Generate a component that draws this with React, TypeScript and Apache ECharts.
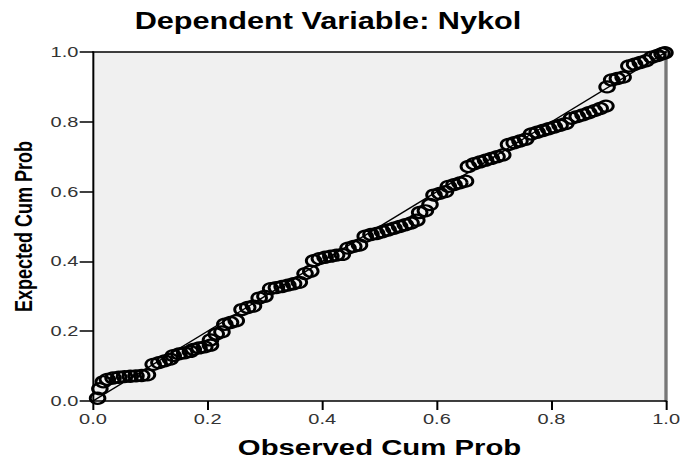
import React, { useEffect, useRef } from "react";
import * as echarts from "echarts";

const titleText = "Dependent Variable: Nykol";
const xName = "Observed Cum Prob";
const yName = "Expected Cum Prob";
const tickValues = [0, 0.2, 0.4, 0.6, 0.8, 1.0];

const observed = [
  0.008, 0.012, 0.018,
  0.025, 0.035, 0.045, 0.055, 0.065, 0.075, 0.085, 0.095,
  0.105, 0.115, 0.125, 0.135,
  0.14, 0.15, 0.16, 0.17,
  0.175, 0.185, 0.195, 0.205, 0.205,
  0.215, 0.225,
  0.23, 0.24, 0.25,
  0.26, 0.27, 0.28,
  0.29, 0.3,
  0.31, 0.32, 0.33, 0.34, 0.35, 0.36,
  0.37, 0.38,
  0.385, 0.395, 0.405, 0.415, 0.425, 0.435,
  0.445, 0.455, 0.465,
  0.475, 0.485, 0.495, 0.505,
  0.515, 0.525, 0.535, 0.545, 0.555,
  0.565,
  0.57, 0.58, 0.588,
  0.595, 0.605, 0.615,
  0.62, 0.63, 0.64, 0.65,
  0.655, 0.665, 0.675, 0.685, 0.695, 0.705, 0.715,
  0.725, 0.735, 0.745, 0.755,
  0.765, 0.775, 0.785, 0.795, 0.805, 0.815, 0.825,
  0.835, 0.845, 0.855, 0.865, 0.875, 0.885, 0.895,
  0.897,
  0.905, 0.915, 0.925,
  0.935, 0.945, 0.955, 0.965,
  0.975, 0.985, 0.993, 0.998,
];

const expected = [
  0.008, 0.035, 0.055,
  0.062, 0.066, 0.068, 0.07, 0.071, 0.072, 0.073, 0.075,
  0.105, 0.11, 0.115, 0.12,
  0.13, 0.135, 0.138, 0.142,
  0.148, 0.152, 0.155, 0.16, 0.175,
  0.192, 0.198,
  0.22, 0.225, 0.23,
  0.262, 0.268, 0.272,
  0.295, 0.3,
  0.322, 0.325, 0.328, 0.332, 0.336, 0.34,
  0.365, 0.372,
  0.402, 0.408, 0.412, 0.415, 0.418, 0.42,
  0.438, 0.443, 0.447,
  0.472, 0.477, 0.48, 0.485,
  0.49, 0.495, 0.5, 0.505, 0.51,
  0.518,
  0.54, 0.545, 0.563,
  0.59, 0.595, 0.6,
  0.615, 0.62, 0.625, 0.63,
  0.672, 0.68, 0.685, 0.69, 0.695, 0.7, 0.705,
  0.735, 0.74, 0.745, 0.75,
  0.765, 0.77, 0.775, 0.78, 0.785, 0.79, 0.795,
  0.81, 0.815, 0.82, 0.826, 0.832, 0.838, 0.845,
  0.9,
  0.92, 0.924, 0.928,
  0.96, 0.965, 0.97, 0.975,
  0.985, 0.99, 0.995, 0.998,
];

const referenceLine = [
  [0, 0],
  [1, 1],
];

const SCALE_X = 4 / 3;
const W = 684 / SCALE_X;
const H = 463;
const FONT = "'Liberation Sans', Arial, Helvetica, sans-serif";

export default function App() {
  const ref = useRef<HTMLDivElement>(null);

  useEffect(() => {
    if (!ref.current) return;
    const chart = echarts.init(ref.current, null, { renderer: "svg" });
    const points = observed.map((x, i) => [x, expected[i]]);
    const labelFmt = (v: number) => v.toFixed(1);
    chart.setOption({
      animation: false,
      backgroundColor: "#ffffff",
      graphic: [
        {
          type: "text",
          x: 246,
          y: 21,
          style: {
            text: titleText,
            fontFamily: FONT,
            fontWeight: "bold",
            fontSize: 23,
            fill: "#000",
            align: "center",
            verticalAlign: "middle",
          },
        },
      ],
      grid: {
        left: 69.75,
        right: W - 504,
        top: 52,
        bottom: H - 409,
        show: true,
        backgroundColor: "#f0f0f0",
        borderWidth: 0,
      },
      xAxis: [
        {
          type: "value",
          min: 0,
          max: 1,
          interval: 0.2,
          name: xName,
          nameLocation: "middle",
          nameGap: 35,
          nameTextStyle: {
            fontFamily: FONT,
            fontWeight: "bold",
            fontSize: 22,
            color: "#000",
          },
          axisLine: { show: true, onZero: false, lineStyle: { color: "#000", width: 1.5 } },
          axisTick: { show: true, length: 9, lineStyle: { color: "#000", width: 1.5 } },
          axisLabel: {
            margin: 10,
            fontFamily: FONT,
            fontSize: 15,
            color: "#333",
            formatter: labelFmt,
            customValues: tickValues,
          },
          splitLine: { show: false },
        },
        {
          type: "value",
          position: "top",
          min: 0,
          max: 1,
          axisLine: { show: true, onZero: false, lineStyle: { color: "#000", width: 1.5 } },
          axisTick: { show: false },
          axisLabel: { show: false },
          splitLine: { show: false },
        },
      ],
      yAxis: [
        {
          type: "value",
          min: 0,
          max: 1,
          interval: 0.2,
          name: yName,
          nameLocation: "middle",
          nameGap: 39,
          nameRotate: 90,
          nameTextStyle: {
            fontFamily: FONT,
            fontWeight: "bold",
            fontSize: 18,
            color: "#000",
          },
          axisLine: { show: true, onZero: false, lineStyle: { color: "#000", width: 1.5 } },
          axisTick: { show: true, length: 10, lineStyle: { color: "#000", width: 1.5 } },
          axisLabel: {
            margin: 11,
            fontFamily: FONT,
            fontSize: 15,
            color: "#333",
            formatter: labelFmt,
          },
          splitLine: { show: false },
        },
        {
          type: "value",
          position: "right",
          min: 0,
          max: 1,
          axisLine: { show: true, onZero: false, lineStyle: { color: "#777", width: 2.5 } },
          axisTick: { show: false },
          axisLabel: { show: false },
          splitLine: { show: false },
        },
      ],
      series: [
        {
          type: "line",
          data: referenceLine,
          xAxisIndex: 0,
          yAxisIndex: 0,
          symbol: "none",
          lineStyle: { color: "#000", width: 1.3 },
          silent: true,
          z: 2,
        },
        {
          type: "scatter",
          data: points,
          xAxisIndex: 0,
          yAxisIndex: 0,
          symbol: "circle",
          symbolSize: 11,
          itemStyle: {
            color: "rgba(0,0,0,0)",
            borderColor: "#000",
            borderWidth: 2.2,
            opacity: 1,
          },
          clip: true,
          z: 3,
        },
      ],
    });
    return () => chart.dispose();
  }, []);

  return (
    <div
      style={{
        position: "absolute",
        left: 0,
        top: 0,
        width: W,
        height: H,
        transform: `scaleX(${SCALE_X})`,
        transformOrigin: "0 0",
      }}
    >
      <div ref={ref} style={{ width: W, height: H }} />
    </div>
  );
}
